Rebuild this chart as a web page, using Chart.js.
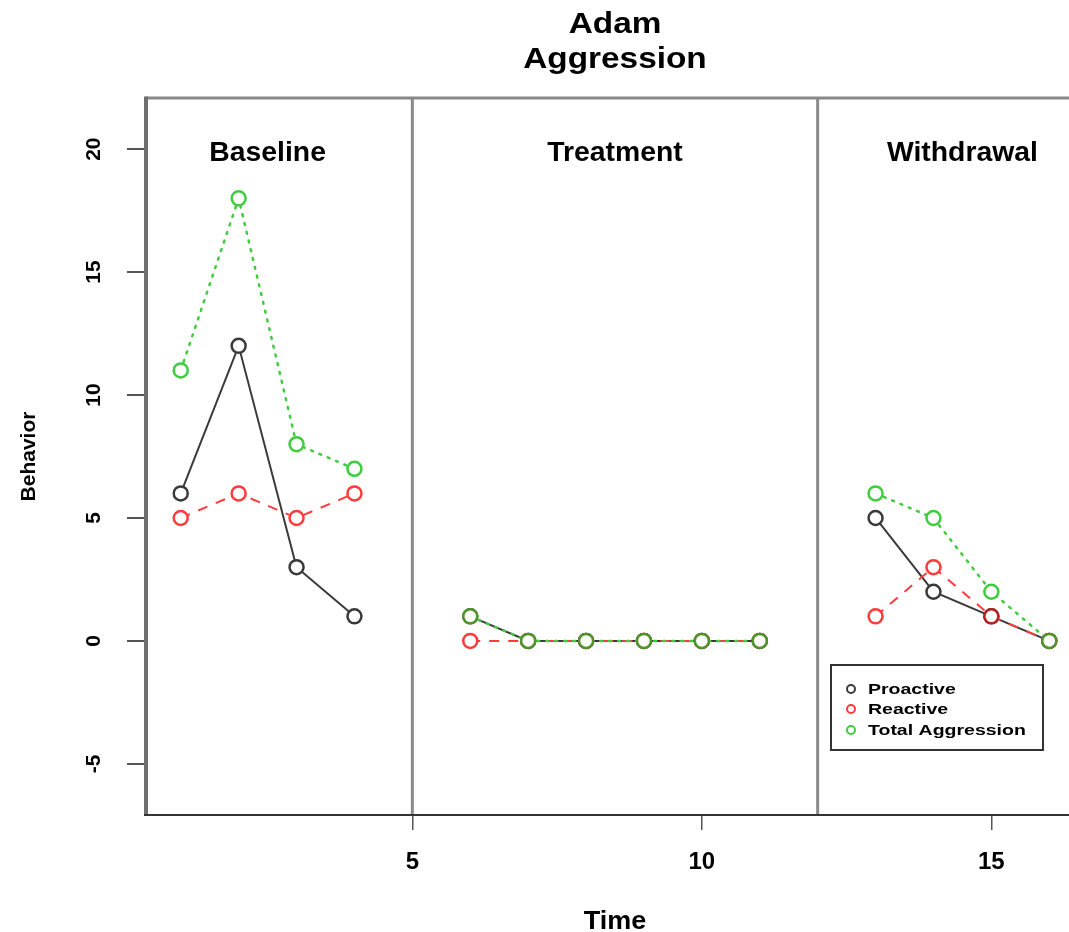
<!DOCTYPE html>
<html><head><meta charset="utf-8">
<script src="https://cdn.jsdelivr.net/npm/chart.js@4.4.1/dist/chart.umd.min.js"></script>
<style>html,body{margin:0;padding:0;background:#fff;overflow:hidden;width:1069px;height:932px}canvas{display:block}</style>
</head><body>
<canvas id="c" width="1110" height="932"></canvas>
<script>
const time = [1,2,3,4,5,6,7,8,9,10,11,12,13,14,15,16];
const proactive = [6,12,3,1,null,1,0,0,0,0,0,null,5,2,1,0];
const reactive = [5,6,5,6,null,0,0,0,0,0,0,null,1,3,1,0];
const totalAggression = [11,18,8,7,null,1,0,0,0,0,0,null,6,5,2,0];
const xTicks = [5,10,15];
const yTicks = [-5,0,5,10,15,20];
const phaseNames = ['Baseline','Treatment','Withdrawal'];
const phaseLabelX = [2.5,8.5,14.5];
const phaseLabelY = 20;
const phaseBreaks = [5,12];
const titleLines = ['Adam','Aggression'];
const seriesNames = ['Proactive','Reactive','Total Aggression'];
const xTitle = 'Time';
const yTitle = 'Behavior';

const COL_P = '#3a3a3a', COL_R = '#ff3b3b', COL_T = '#3fcc3f';
const COL_T_OVER = '#4f962a', COL_R_OVER = '#b82222';

function pts(arr){ return time.map((t,i)=>({x:t, y:arr[i]})); }

function txt(ctx, s, x, y, font, sx, align, baseline, rot){
  ctx.save(); ctx.translate(x,y); if(rot) ctx.rotate(rot); ctx.scale(sx,1);
  ctx.font = font; ctx.textAlign = align; ctx.textBaseline = baseline; ctx.fillStyle = '#000';
  ctx.fillText(s,0,0); ctx.restore();
}

const decor = {
  id:'decor',
  beforeDatasetsDraw(chart){
    const {ctx, chartArea:a, scales:{x,y}} = chart;
    ctx.save();
    ctx.lineCap = 'butt';
    // phase break lines
    ctx.strokeStyle = '#8a8a8a'; ctx.lineWidth = 3;
    phaseBreaks.forEach(b=>{ const px = x.getPixelForValue(b); ctx.beginPath(); ctx.moveTo(px,a.top); ctx.lineTo(px,a.bottom); ctx.stroke(); });
    // box
    ctx.strokeStyle = '#888'; ctx.lineWidth = 3;
    ctx.beginPath(); ctx.moveTo(a.left,a.top); ctx.lineTo(a.right,a.top); ctx.lineTo(a.right,a.bottom); ctx.stroke();
    ctx.strokeStyle = '#6e6e6e'; ctx.lineWidth = 4;
    ctx.beginPath(); ctx.moveTo(a.left,a.top-1.5); ctx.lineTo(a.left,a.bottom+1); ctx.stroke();
    ctx.strokeStyle = '#333'; ctx.lineWidth = 2;
    ctx.beginPath(); ctx.moveTo(a.left-2,a.bottom); ctx.lineTo(a.right,a.bottom); ctx.stroke();
    ctx.restore();
    // phase labels
    phaseNames.forEach((n,i)=>{
      txt(ctx, n, x.getPixelForValue(phaseLabelX[i]), y.getPixelForValue(phaseLabelY)+12, 'bold 27px "Liberation Sans", Arial, sans-serif', 1.05, 'center', 'alphabetic', 0);
    });
    // y tick labels
    yTicks.forEach(v=>{
      txt(ctx, String(v), 100, y.getPixelForValue(v), 'bold 21px "Liberation Sans", Arial, sans-serif', 1, 'center', 'alphabetic', -Math.PI/2);
    });
    // titles
    const cx = (a.left + a.right)/2;
    txt(ctx, titleLines[0], cx, 33, 'bold 29px "Liberation Sans", Arial, sans-serif', 1.15, 'center', 'alphabetic', 0);
    txt(ctx, titleLines[1], cx, 68, 'bold 29px "Liberation Sans", Arial, sans-serif', 1.15, 'center', 'alphabetic', 0);
    txt(ctx, xTitle, cx, 929, 'bold 25px "Liberation Sans", Arial, sans-serif', 1.08, 'center', 'alphabetic', 0);
    txt(ctx, yTitle, 35, (a.top+a.bottom)/2, 'bold 21px "Liberation Sans", Arial, sans-serif', 1, 'center', 'alphabetic', -Math.PI/2);
  },
  afterDraw(chart){
    const {ctx} = chart;
    ctx.save();
    ctx.fillStyle = '#fff';
    ctx.fillRect(831,665,212,85);
    ctx.strokeStyle = '#333'; ctx.lineWidth = 2;
    ctx.strokeRect(831,665,212,85);
    const cols = [COL_P, COL_R, COL_T];
    const rowY = [689,709,730];
    seriesNames.forEach((n,i)=>{
      ctx.beginPath(); ctx.arc(851,rowY[i],4,0,Math.PI*2); ctx.strokeStyle = cols[i]; ctx.lineWidth = 2; ctx.stroke();
      txt(ctx, n, 868, rowY[i]+5, 'bold 15px "Liberation Sans", Arial, sans-serif', 1.3, 'left', 'alphabetic', 0);
    });
    ctx.restore();
  }
};

new Chart(document.getElementById('c'), {
  type:'line',
  data:{
    datasets:[
      { label:seriesNames[0], data:pts(proactive), order:2, borderColor:COL_P, borderWidth:2,
        pointRadius:7, pointBorderWidth:2.5, pointBorderColor:COL_P, pointBackgroundColor:'#fff', spanGaps:false, tension:0 },
      { label:seriesNames[1], data:pts(reactive), order:1, borderColor:COL_R, borderWidth:2, borderDash:[10,9],
        pointRadius:7, pointBorderWidth:2.5,
        pointBorderColor:c=>{const i=c.dataIndex; return reactive[i]===proactive[i] ? COL_R_OVER : COL_R;},
        pointBackgroundColor:'#fff', spanGaps:false, tension:0 },
      { label:seriesNames[2], data:pts(totalAggression), order:0, borderColor:COL_T, borderWidth:2.5, borderDash:[2,7], borderCapStyle:'round',
        pointRadius:7, pointBorderWidth:2.5,
        pointBorderColor:c=>{const i=c.dataIndex; return totalAggression[i]===proactive[i] ? COL_T_OVER : COL_T;},
        pointBackgroundColor:'#fff', spanGaps:false, tension:0 }
    ]
  },
  options:{
    responsive:false, animation:false,
    layout:{padding:{top:98,left:0,right:26,bottom:0}},
    plugins:{legend:{display:false}, tooltip:{enabled:false}, title:{display:false}},
    scales:{
      x:{ type:'linear', min:0.4, max:16.6,
        afterBuildTicks:s=>{ s.ticks = xTicks.map(v=>({value:v})); },
        afterFit:s=>{ s.height = 117; },
        grid:{drawOnChartArea:false, drawTicks:true, tickLength:15, color:'#555', lineWidth:1.5},
        border:{display:false},
        ticks:{ color:'#000', font:{family:'"Liberation Sans", Arial, sans-serif', size:24, weight:'bold'}, padding:18, maxRotation:0, autoSkip:false, callback:v=>String(v) }
      },
      y:{ type:'linear', min:-7.08, max:22.08,
        afterBuildTicks:s=>{ s.ticks = yTicks.map(v=>({value:v})); },
        afterFit:s=>{ s.width = 146; },
        grid:{drawOnChartArea:false, drawTicks:true, tickLength:19, color:'#555', lineWidth:2},
        border:{display:false},
        ticks:{ display:false }
      }
    }
  },
  plugins:[decor]
});
</script>
</body></html>
